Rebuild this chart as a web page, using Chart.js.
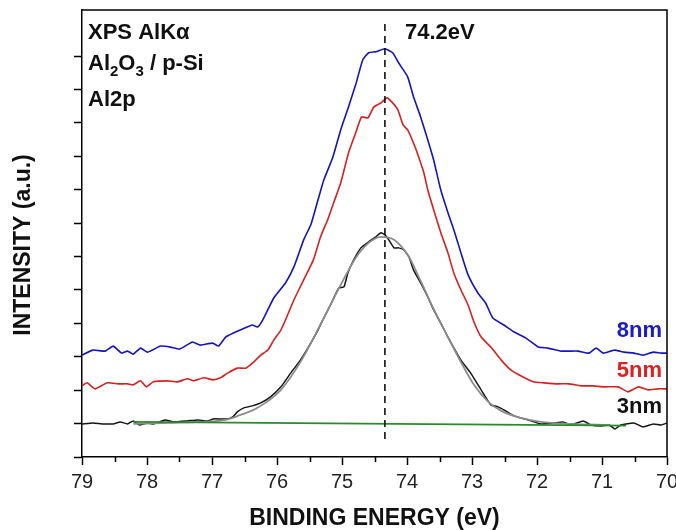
<!DOCTYPE html>
<html lang="en">
<head>
    <meta charset="UTF-8">
    <title>XPS Al2p</title>
    <script src="https://cdn.jsdelivr.net/npm/chart.js@4.4.1/dist/chart.umd.min.js"></script>
    <style>
        body{margin:0; background:#fff;}
        #wrap{width:676px; height:530px;}
    </style>
</head>
<body>
    <div id="wrap">
        <canvas id="xpsChart" width="676" height="530"></canvas>
    </div>

    <script>
        // binding energy (eV) / intensity (a.u.)
        const energy8nm = [79.00,78.83,78.64,78.52,78.39,78.30,78.21,78.10,77.99,77.79,77.64,77.50,77.30,77.18,76.99,76.90,76.79,76.67,76.53,76.38,76.30,76.22,76.05,75.87,75.74,75.59,75.48,75.37,75.28,75.14,75.02,74.90,74.79,74.68,74.59,74.48,74.34,74.22,74.13,73.99,73.90,73.79,73.68,73.59,73.48,73.37,73.28,73.17,73.06,72.91,72.79,72.68,72.51,72.35,72.17,71.98,71.83,71.63,71.37,71.20,71.09,70.98,70.81,70.66,70.51,70.37,70.21,70.09,70.00]
        const intensity8nm = [3.05,3.20,3.17,3.32,3.11,3.17,3.08,3.26,3.14,3.32,3.29,3.23,3.44,3.35,3.41,3.32,3.59,3.71,3.83,3.95,3.89,4.10,4.76,5.21,5.69,6.50,6.95,7.69,8.29,8.98,9.79,10.48,11.14,11.89,12.10,12.13,12.22,12.10,11.80,11.38,10.78,10.18,9.49,8.89,7.99,7.31,6.80,6.11,5.45,4.91,4.61,4.16,3.95,3.74,3.56,3.29,3.26,3.17,3.17,3.11,3.26,3.11,3.20,3.14,3.11,3.05,3.14,3.11,3.11]

        const energy5nm = [79.00,78.92,78.80,78.61,78.44,78.30,78.21,78.10,78.01,77.90,77.69,77.53,77.38,77.28,77.13,76.98,76.87,76.76,76.61,76.48,76.36,76.25,76.14,76.05,75.94,75.87,75.74,75.59,75.44,75.33,75.22,75.13,75.02,74.90,74.79,74.70,74.60,74.51,74.40,74.31,74.22,74.14,74.06,73.99,73.90,73.82,73.74,73.68,73.59,73.48,73.37,73.28,73.17,73.06,72.97,72.86,72.71,72.55,72.40,72.22,72.06,71.89,71.68,71.51,71.32,71.14,70.97,70.75,70.60,70.44,70.29,70.14,70.00]
        const intensity5nm = [2.13,2.22,2.04,2.22,2.19,2.19,2.16,2.28,2.10,2.25,2.28,2.25,2.34,2.28,2.37,2.31,2.37,2.51,2.66,2.66,2.84,3.05,3.20,3.50,3.80,4.10,4.70,5.30,5.90,6.59,7.10,7.60,8.20,9.10,9.70,10.18,10.15,10.48,10.60,10.75,10.60,10.39,9.94,9.79,9.40,8.98,8.50,7.99,7.40,6.71,6.11,5.51,5.00,4.55,4.04,3.59,3.29,2.90,2.60,2.40,2.25,2.22,2.19,2.19,2.13,2.13,2.10,2.10,1.95,2.10,2.01,2.04,2.04]

        const energy3nm = [79.00,78.83,78.69,78.52,78.41,78.30,78.21,78.12,77.99,77.90,77.72,77.59,77.38,77.22,77.07,76.98,76.87,76.76,76.68,76.61,76.51,76.38,76.25,76.10,75.94,75.79,75.64,75.48,75.37,75.28,75.14,75.05,74.97,74.91,74.82,74.71,74.59,74.48,74.40,74.34,74.28,74.20,74.13,74.05,73.97,73.90,73.79,73.68,73.59,73.48,73.37,73.17,73.02,72.86,72.71,72.60,72.51,72.35,72.14,71.94,71.75,71.60,71.48,71.29,71.17,71.01,70.89,70.80,70.71,70.51,70.37,70.21,70.09,70.00]
        const intensity3nm = [0.99,1.02,0.99,0.99,1.05,0.99,1.08,0.96,1.02,0.99,1.11,1.05,1.08,1.11,1.08,1.14,1.14,1.14,1.20,1.35,1.47,1.53,1.62,1.80,2.10,2.51,2.90,3.41,3.80,4.16,4.70,5.06,5.09,5.51,5.90,6.26,6.44,6.59,6.71,6.65,6.50,6.26,6.26,6.20,5.99,5.60,5.21,4.79,4.40,4.01,3.59,2.90,2.51,2.01,1.56,1.50,1.41,1.23,1.11,0.99,1.02,1.05,0.96,1.08,0.96,0.93,0.96,0.84,0.96,1.02,0.90,0.99,0.96,1.02]

        // fitted peak and linear background of the 3nm spectrum
        const energyFit = [78.21,77.64,77.18,76.79,76.56,76.36,76.18,75.94,75.64,75.28,75.02,74.79,74.59,74.40,74.20,73.97,73.79,73.59,73.37,73.17,72.97,72.75,72.55,72.25,71.94,71.48,70.89]
        const intensityFit = [0.99,1.02,1.05,1.11,1.26,1.41,1.62,2.01,2.84,4.16,5.15,5.96,6.41,6.59,6.50,5.99,5.27,4.43,3.59,2.84,2.16,1.65,1.38,1.17,1.05,0.99,0.96]
        const energyBg = [78.21, 70.63]
        const intensityBg = [1.05, 0.94]

        // dashed marker at the peak position
        const peakEnergy = [74.34, 74.34]
        const peakRange = [0.54, 13.08]

        const xTicks = [70,71,72,73,74,75,76,77,78,79]
        const seriesLabels = ['8nm', '5nm', '3nm']

        const FONT = '"Liberation Sans", Arial, sans-serif'

        function toPoints(xs, ys){
            const n = Math.min(xs.length, ys.length)
            const pts = []
            for(let i = 0; i < n; i++) pts.push({x: xs[i], y: ys[i]})
            return pts
        }

        function line(data, color, width, extra){
            return Object.assign({
                data: data,
                borderColor: color,
                borderWidth: width,
                pointRadius: 0,
                fill: false,
                tension: 0.15
            }, extra || {})
        }

        // frame, minor ticks and the text on the plot
        const decor = {
            id: 'decor',
            afterDraw: function(chart){
                const ctx = chart.ctx
                const a = chart.chartArea
                const xs = chart.scales.x

                ctx.save()
                ctx.strokeStyle = '#000'
                ctx.lineWidth = 1.5
                ctx.beginPath()
                ctx.moveTo(a.left, a.top)
                ctx.lineTo(a.right, a.top)
                ctx.lineTo(a.right, a.bottom)
                ctx.stroke()

                // half-eV minor ticks
                ctx.beginPath()
                for(let v = xs.min + 0.5; v < xs.max; v += 1){
                    const px = Math.round(xs.getPixelForValue(v)) + 0.5
                    ctx.moveTo(px, a.bottom)
                    ctx.lineTo(px, a.bottom + 5)
                }
                ctx.stroke()

                ctx.fillStyle = '#111'
                ctx.textAlign = 'left'
                ctx.textBaseline = 'alphabetic'
                ctx.font = 'bold 22px ' + FONT
                ctx.fillText('XPS AlKα', 88, 39)

                let px = 88
                const part = function(t, size, dy){
                    ctx.font = 'bold ' + size + 'px ' + FONT
                    ctx.fillText(t, px, 70 + dy)
                    px += ctx.measureText(t).width
                }
                part('Al', 22, 0)
                part('2', 15, 6)
                part('O', 22, 0)
                part('3', 15, 6)
                part(' / p-Si', 22, 0)

                ctx.font = 'bold 22px ' + FONT
                ctx.fillText('Al2p', 88, 106)
                ctx.fillText('74.2eV', 405, 39)

                ctx.textAlign = 'right'
                const labelColors = ['#1a1ad0', '#dd2020', '#111']
                const labelY = [337, 377, 413]
                seriesLabels.forEach(function(t, i){
                    ctx.fillStyle = labelColors[i]
                    ctx.fillText(t, 662, labelY[i])
                })

                ctx.fillStyle = '#111'
                ctx.translate(24, 245)
                ctx.rotate(-Math.PI / 2)
                ctx.textAlign = 'center'
                ctx.textBaseline = 'middle'
                ctx.font = 'bold 23px ' + FONT
                ctx.fillText('INTENSITY (a.u.)', 0, 0)
                ctx.restore()
            }
        }

        const config = {
            type: 'line',
            data: {
                datasets: [
                    line(toPoints(peakEnergy, peakRange), '#111', 1.6, {borderDash: [7, 5], tension: 0}),
                    line(toPoints(energyBg, intensityBg), '#2b8a2b', 1.8, {tension: 0}),
                    line(toPoints(energyFit, intensityFit), '#8c8c8c', 1.8, {cubicInterpolationMode: 'monotone'}),
                    line(toPoints(energy3nm, intensity3nm), '#151515', 1.5),
                    line(toPoints(energy5nm, intensity5nm), '#d42222', 1.6),
                    line(toPoints(energy8nm, intensity8nm), '#1414c0', 1.6)
                ]
            },
            options: {
                responsive: false,
                animation: false,
                devicePixelRatio: 1,
                layout: {padding: {top: 10, right: 9, left: 0, bottom: 0}},
                plugins: {
                    legend: {display: false},
                    tooltip: {enabled: false}
                },
                scales: {
                    x: {
                        type: 'linear',
                        reverse: true,
                        min: 70,
                        max: 79,
                        afterBuildTicks: function(scale){
                            scale.ticks = xTicks.map(function(v){ return {value: v} })
                        },
                        afterFit: function(scale){
                            scale.height = 73
                            scale.paddingLeft = 0
                            scale.paddingRight = 0
                        },
                        grid: {drawOnChartArea: false, drawTicks: true, tickLength: 8, tickColor: '#000', tickWidth: 1.5},
                        border: {display: true, color: '#000', width: 1.5},
                        ticks: {
                            autoSkip: false,
                            maxRotation: 0,
                            padding: 5,
                            color: '#222',
                            font: {family: FONT, size: 20},
                            callback: function(v){ return String(v) }
                        },
                        title: {
                            display: true,
                            text: 'BINDING ENERGY (eV)',
                            color: '#111',
                            font: {family: FONT, size: 23, weight: 'bold', lineHeight: 1},
                            padding: {top: 0, bottom: 0}
                        }
                    },
                    y: {
                        type: 'linear',
                        min: 0,
                        max: 13.38,
                        afterBuildTicks: function(scale){
                            scale.ticks = scale.ticks.filter(function(t){ return Number.isInteger(t.value) })
                        },
                        afterFit: function(scale){
                            scale.width = 82
                        },
                        grid: {drawOnChartArea: false, drawTicks: true, tickLength: 8, tickColor: '#000', tickWidth: 1.5},
                        border: {display: true, color: '#000', width: 1.5},
                        ticks: {stepSize: 1, display: false}
                    }
                }
            },
            plugins: [decor]
        }

        const ctx = document.querySelector('#xpsChart').getContext('2d')
        const xpsChart = new Chart(ctx, config)
    </script>
</body>
</html>
